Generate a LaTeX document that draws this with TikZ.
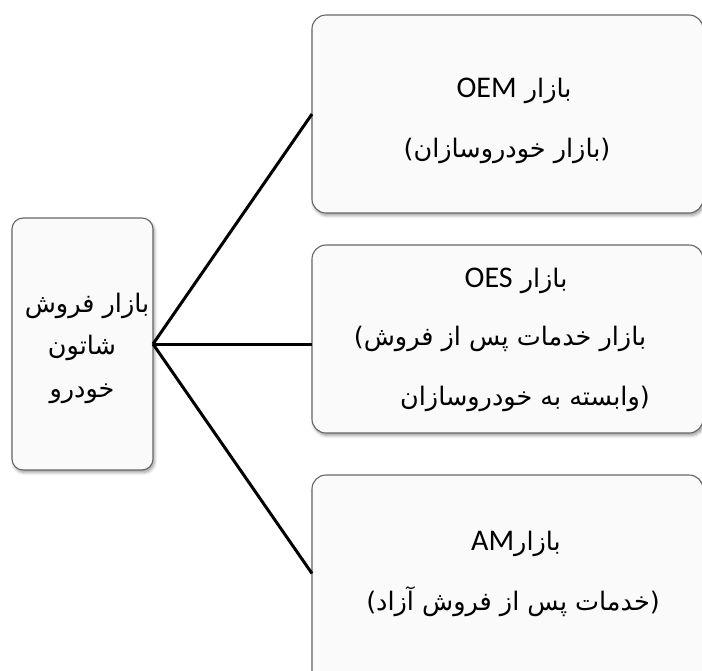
\documentclass[tikz,border=0pt]{standalone}
\usepackage{fontspec}
\usetikzlibrary{shadows.blur,calc}
\TeXXeTstate=1
\setmainfont{Carlito}
\newfontfamily\arabicfont[Script=Arabic]{DejaVu Sans}
\newfontfamily\parfont{DejaVu Sans}
\newcommand\artxt{\arabicfont\fontsize{25.5}{30}\selectfont}
\newcommand\latxt{\rmfamily\fontsize{30}{30}\selectfont}
\newcommand\lpar{\hbox{\parfont\fontsize{25.5}{30}\selectfont(}}
\newcommand\rpar{\hbox{\parfont\fontsize{25.5}{30}\selectfont)}}
\tikzset{
  box/.style={draw=black!60, line width=1.1pt, fill=white!98!black, rounded corners=14pt,
    blur shadow={shadow xshift=1.5pt, shadow yshift=-2.5pt, shadow blur steps=6, shadow blur radius=3pt, shadow opacity=40},
    inner sep=0pt, outer sep=0pt},
  txt/.style={anchor=base, inner sep=0pt, font=\artxt, text=black},
  link/.style={draw=black, line width=3pt}
}
\begin{document}
\begin{tikzpicture}[x=1pt,y=-1pt]
\useasboundingbox (0,0) rectangle (702,670);
\clip (0,0) rectangle (702,670);
% boxes
\node[box, rounded corners=11pt, minimum width=141pt, minimum height=252pt] (L) at (82.5,344) {};
\node[box, minimum width=391pt, minimum height=198pt] (T) at (507.5,114) {};
\node[box, minimum width=391pt, minimum height=188pt] (M) at (507.5,339) {};
\node[box, minimum width=391pt, minimum height=225pt] (B) at (507.5,587.5) {};
% connectors
\coordinate (Bend) at ($(B.west)+(0,-14)$);
\draw[link] (L.east) -- (T.west);
\draw[link] (L.east) -- (L.east -| M.west);
\draw[link] (L.east) -- (Bend);
% left box text
\node[txt] (l1) at (87,312) {\beginR بازار فروش\endR};
\node[txt] (l2) at (82,354) {\beginR شاتون\endR};
\node[txt] (l3) at (82,397) {\beginR خودرو\endR};
% top box text
\node[txt] (t1) at (514,97) {\beginR بازار \beginL{\latxt OEM}\endL\endR};
\node[txt] (t2) at (507,157) {\lpar\beginR بازار خودروسازان\endR\rpar};
% middle box text
\node[txt] (m1) at (516,287) {\beginR بازار \beginL{\latxt OES}\endL\endR};
\node[txt] (m2) at (500,345) {\lpar\beginR بازار خدمات پس از فروش\endR};
\node[txt] (m3) at (525,405) {\beginR وابسته به خودروسازان\endR\rpar};
% bottom box text
\node[txt] (b1) at (516,550) {\beginR بازار\beginL{\latxt AM}\endL\endR};
\node[txt] (b2) at (513,610) {\lpar\beginR خدمات پس از فروش آزاد\endR\rpar};
\end{tikzpicture}
\end{document}
